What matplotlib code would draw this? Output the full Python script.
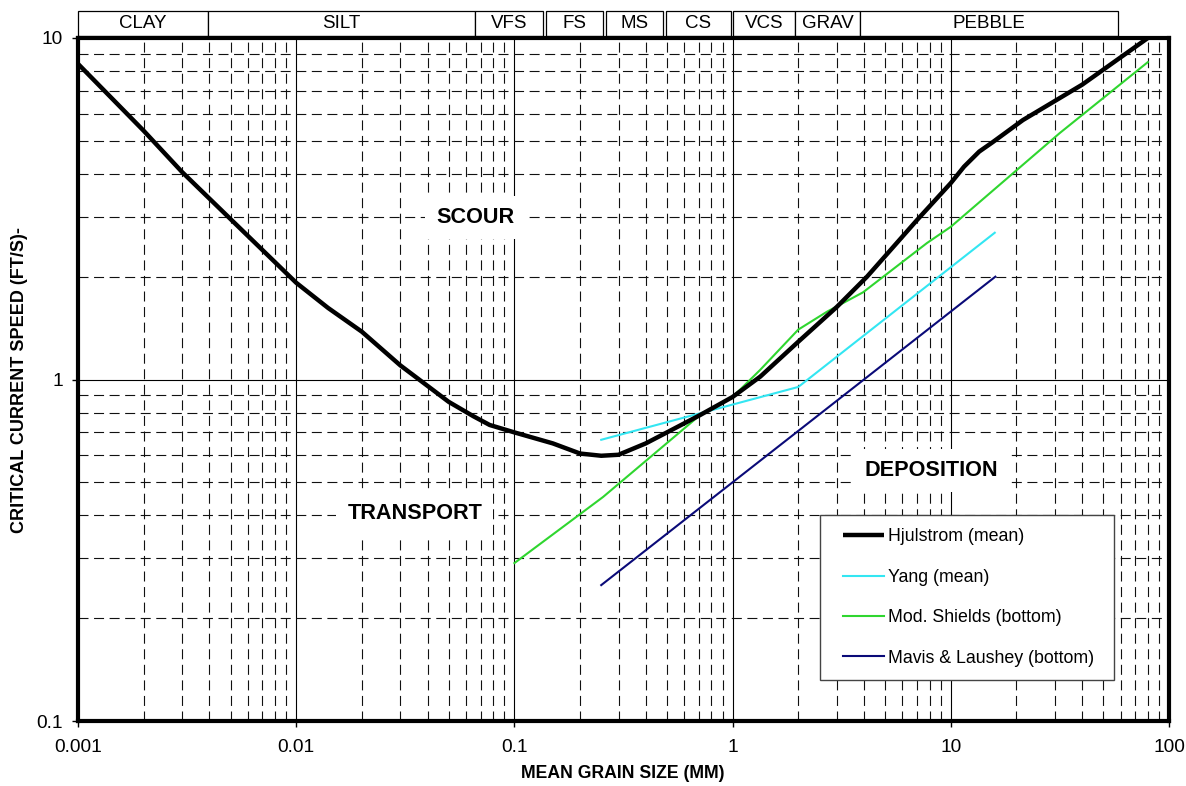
import matplotlib
matplotlib.use('Agg')
import matplotlib.pyplot as plt
from matplotlib.patches import Rectangle
from matplotlib.lines import Line2D
from matplotlib.legend_handler import HandlerLine2D
from matplotlib.ticker import LogLocator, FixedLocator, FixedFormatter

plt.rcParams['font.family'] = ['Liberation Sans', 'DejaVu Sans']

# grain size (mm) vs critical speed (ft/s)
hjul_d = [0.001, 0.002, 0.003, 0.005, 0.01, 0.014, 0.02, 0.03, 0.05, 0.065, 0.077, 0.1, 0.15, 0.2, 0.25,
          0.3, 0.4, 0.5, 0.71, 1.0, 1.34, 2.0, 3.0, 4.13, 7.0, 10, 11.5, 13.5, 15.6, 21.4, 40, 80]
hjul_v = [8.4, 5.35, 4.05, 2.95, 1.92, 1.62, 1.38, 1.10, 0.86, 0.78, 0.736, 0.70, 0.65, 0.607, 0.598,
          0.602, 0.65, 0.70, 0.787, 0.889, 1.02, 1.29, 1.63, 2.0, 2.93, 3.76, 4.2, 4.65, 4.96, 5.75, 7.3, 10.0]

yang_d = [0.25, 2.0, 15.9]
yang_v = [0.666, 0.951, 2.69]

shields_d = [0.1, 0.255, 0.71, 1.0, 1.336, 2.0, 2.71, 3.96, 7.78, 10, 20.1, 31.6, 80]
shields_v = [0.29, 0.453, 0.787, 0.889, 1.066, 1.40, 1.58, 1.80, 2.51, 2.80, 4.11, 5.27, 8.5]

mavis_d = [0.25, 16]
mavis_v = [0.25, 2.0]

# size classes along the top
class_names = ['CLAY', 'SILT', 'VFS', 'FS', 'MS', 'CS', 'VCS', 'GRAV', 'PEBBLE']
class_lo = [0.001, 0.00394, 0.0659, 0.139, 0.263, 0.496, 1.0, 1.94, 3.85]
class_hi = [0.00394, 0.0659, 0.1347, 0.255, 0.480, 0.98, 1.94, 3.85, 58.3]

x_ticks = [0.001, 0.01, 0.1, 1, 10, 100]
x_ticklabels = ['0.001', '0.01', '0.1', '1', '10', '100']
y_ticks = [0.1, 1, 10]
y_ticklabels = ['0.1', '1', '10']

fig = plt.figure(figsize=(11.86, 7.86), dpi=100)
ax = fig.add_axes([78 / 1186, 65 / 786, 1091 / 1186, 683 / 786])
ax.set_xscale('log')
ax.set_yscale('log')
ax.set_xlim(0.001, 100)
ax.set_ylim(0.1, 10)

ax.plot(hjul_d, hjul_v, color='black', lw=3.2, label='Hjulstrom (mean)', zorder=5,
        solid_joinstyle='round', solid_capstyle='butt')
ax.plot(yang_d, yang_v, color='#33E6F2', lw=1.5, label='Yang (mean)', zorder=4)
ax.plot(shields_d, shields_v, color='#2FD62F', lw=1.5, label='Mod. Shields (bottom)', zorder=4)
ax.plot(mavis_d, mavis_v, color='#0A0A78', lw=1.5, label='Mavis & Laushey (bottom)', zorder=4)

ax.xaxis.set_major_locator(FixedLocator(x_ticks))
ax.xaxis.set_major_formatter(FixedFormatter(x_ticklabels))
ax.yaxis.set_major_locator(FixedLocator(y_ticks))
ax.yaxis.set_major_formatter(FixedFormatter(y_ticklabels))
ax.xaxis.set_minor_locator(LogLocator(base=10, subs=range(2, 10), numticks=20))
ax.yaxis.set_minor_locator(LogLocator(base=10, subs=range(2, 10), numticks=20))
ax.xaxis.set_minor_formatter(plt.NullFormatter())
ax.yaxis.set_minor_formatter(plt.NullFormatter())

ax.grid(which='major', color='black', lw=0.8, ls='-', zorder=1)
ax.grid(which='minor', color='#111111', lw=0.8, ls=(0, (9, 5)), zorder=1)
ax.tick_params(which='major', direction='out', length=4, width=1, labelsize=13.8)
ax.tick_params(axis='x', which='major', pad=9)
ax.tick_params(axis='y', which='major', pad=7)
ax.tick_params(which='minor', length=0)
for s in ax.spines.values():
    s.set_linewidth(3)

# size class bar above the plot
trans = ax.get_xaxis_transform()
for name, lo, hi in zip(class_names, class_lo, class_hi):
    ax.add_patch(Rectangle((lo, 1.003), hi - lo, 0.036, transform=trans, facecolor='white',
                           edgecolor='black', lw=0.9, clip_on=False))
    mid = (lo * hi) ** 0.5
    ax.text(mid, 1.021, name, transform=trans, ha='center', va='center', fontsize=13.5)

box = dict(facecolor='white', edgecolor='none', pad=8)
ax.text(0.066, 2.99, 'SCOUR', fontsize=15.6, fontweight='bold', ha='center', va='center', bbox=box, zorder=6)
ax.text(0.035, 0.404, 'TRANSPORT', fontsize=15.6, fontweight='bold', ha='center', va='center', bbox=box, zorder=6)
ax.text(8.1, 0.54, 'DEPOSITION', fontsize=15.6, fontweight='bold', ha='center', va='center', bbox=box, zorder=6)

leg = ax.legend(loc='lower left', bbox_to_anchor=(0.68, 0.06, 0.27, 0.239), mode='expand',
                borderaxespad=0, fontsize=12.8, frameon=True, fancybox=False, framealpha=1,
                edgecolor='#444444', handlelength=2.86, handletextpad=0.2, labelspacing=1.32,
                borderpad=0.75, handler_map={Line2D: HandlerLine2D(xpad=0.56)})
leg.get_frame().set_linewidth(1)
leg.set_zorder(7)

fig.text(623 / 1186, 1 - 773 / 786, 'MEAN GRAIN SIZE (MM)', ha='center', va='center',
         fontsize=12.7, fontweight='bold')
fig.text(20 / 1186, 1 - 380 / 786, 'CRITICAL CURRENT SPEED (FT/S)-', ha='center', va='center',
         rotation=90, fontsize=13, fontweight='bold')

plt.savefig('out.png', dpi=100)
